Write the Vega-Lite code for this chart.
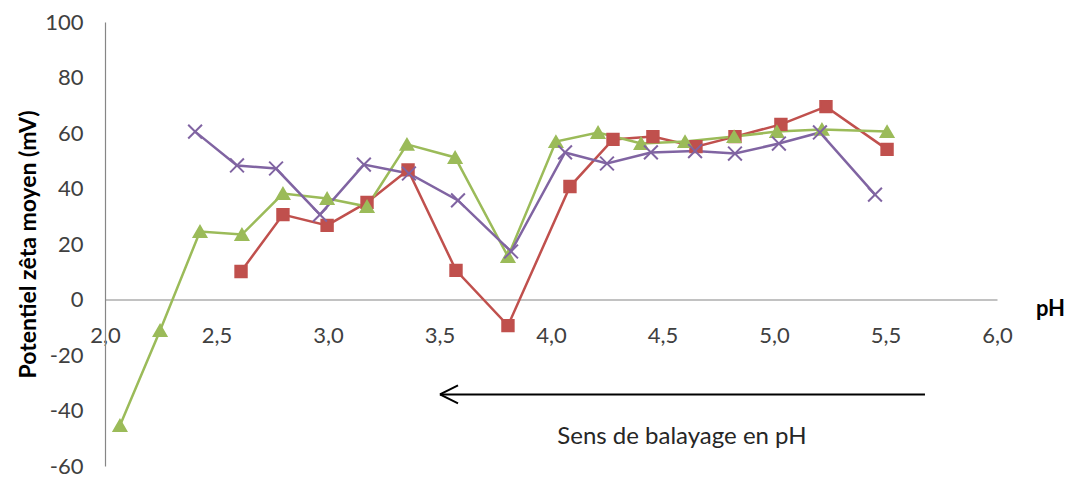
{
  "$schema": "https://vega.github.io/schema/vega-lite/v6.json",
  "width": 892,
  "height": 444,
  "autosize": {"type": "none"},
  "padding": {"left": 105, "top": 22, "right": 79, "bottom": 16},
  "background": "white",
  "config": {
    "view": {"stroke": null},
    "font": "Lato",
    "axis": {"grid": false, "ticks": false, "domainColor": "#868686", "domainWidth": 1.2, "labelFont": "Lato", "labelFontSize": 22, "labelColor": "#404040", "titleFont": "Lato"}
  },
  "datasets": {
    "series": [
      {"serie": "A", "pH": 2.61, "zeta": 10.1},
      {"serie": "A", "pH": 2.798, "zeta": 30.6},
      {"serie": "A", "pH": 2.996, "zeta": 26.7},
      {"serie": "A", "pH": 3.175, "zeta": 35.0},
      {"serie": "A", "pH": 3.359, "zeta": 46.7},
      {"serie": "A", "pH": 3.574, "zeta": 10.5},
      {"serie": "A", "pH": 3.807, "zeta": -9.4},
      {"serie": "A", "pH": 4.085, "zeta": 40.7},
      {"serie": "A", "pH": 4.278, "zeta": 57.7},
      {"serie": "A", "pH": 4.457, "zeta": 58.7},
      {"serie": "A", "pH": 4.65, "zeta": 55.1},
      {"serie": "A", "pH": 4.825, "zeta": 58.7},
      {"serie": "A", "pH": 5.031, "zeta": 63.1},
      {"serie": "A", "pH": 5.233, "zeta": 69.5},
      {"serie": "A", "pH": 5.507, "zeta": 54.1},
      {"serie": "B", "pH": 2.067, "zeta": -45.4},
      {"serie": "B", "pH": 2.247, "zeta": -11.2},
      {"serie": "B", "pH": 2.426, "zeta": 24.5},
      {"serie": "B", "pH": 2.614, "zeta": 23.4},
      {"serie": "B", "pH": 2.798, "zeta": 38.2},
      {"serie": "B", "pH": 2.996, "zeta": 36.4},
      {"serie": "B", "pH": 3.175, "zeta": 33.5},
      {"serie": "B", "pH": 3.354, "zeta": 55.9},
      {"serie": "B", "pH": 3.57, "zeta": 51.2},
      {"serie": "B", "pH": 3.807, "zeta": 15.5},
      {"serie": "B", "pH": 4.022, "zeta": 56.9},
      {"serie": "B", "pH": 4.211, "zeta": 60.2},
      {"serie": "B", "pH": 4.404, "zeta": 56.2},
      {"serie": "B", "pH": 4.601, "zeta": 56.9},
      {"serie": "B", "pH": 4.821, "zeta": 58.7},
      {"serie": "B", "pH": 5.013, "zeta": 60.5},
      {"serie": "B", "pH": 5.215, "zeta": 61.3},
      {"serie": "B", "pH": 5.507, "zeta": 60.5},
      {"serie": "C", "pH": 2.404, "zeta": 60.5},
      {"serie": "C", "pH": 2.592, "zeta": 48.3},
      {"serie": "C", "pH": 2.767, "zeta": 47.2},
      {"serie": "C", "pH": 2.964, "zeta": 30.6},
      {"serie": "C", "pH": 3.161, "zeta": 48.6},
      {"serie": "C", "pH": 3.363, "zeta": 45.4},
      {"serie": "C", "pH": 3.583, "zeta": 35.7},
      {"serie": "C", "pH": 3.821, "zeta": 17.3},
      {"serie": "C", "pH": 4.063, "zeta": 53.0},
      {"serie": "C", "pH": 4.251, "zeta": 49.0},
      {"serie": "C", "pH": 4.448, "zeta": 53.0},
      {"serie": "C", "pH": 4.646, "zeta": 53.5},
      {"serie": "C", "pH": 4.825, "zeta": 52.6},
      {"serie": "C", "pH": 5.022, "zeta": 56.2},
      {"serie": "C", "pH": 5.206, "zeta": 60.2},
      {"serie": "C", "pH": 5.453, "zeta": 37.8}
    ],
    "arrow": [
      {"x": 5.677, "y": -34.2, "x2": 3.502, "y2": -34.2},
      {"x": 3.502, "y": -34.2, "x2": 3.583, "y2": -30.96},
      {"x": 3.502, "y": -34.2, "x2": 3.583, "y2": -37.44}
    ],
    "note": [
      {"label": "Sens de balayage en pH", "x": 4.587, "y": -49.4}
    ]
  },
  "layer": [
    {
      "data": {"name": "series"},
      "mark": {"type": "line", "strokeWidth": 2.5},
      "encoding": {
        "x": {
          "field": "pH", "type": "quantitative",
          "scale": {"domain": [2, 6], "nice": false, "zero": false},
          "axis": {
            "orient": "bottom", "offset": -166.5, "values": [2, 2.5, 3, 3.5, 4, 4.5, 5, 5.5, 6],
            "labelExpr": "replace(format(datum.value, '.1f'), '.', ',')",
            "labelPadding": 26, "labelFlush": false,
            "title": "pH", "titleFontSize": 22, "titleFontWeight": "bold", "titleColor": "#000000",
            "titleX": 945, "titleY": 9, "titleBaseline": "middle", "titleAlign": "center", "titleAngle": 0
          }
        },
        "y": {
          "field": "zeta", "type": "quantitative",
          "scale": {"domain": [-60, 100], "nice": false},
          "axis": {
            "values": [-60, -40, -20, 0, 20, 40, 60, 80, 100],
            "labelExpr": "'' + datum.value",
            "labelPadding": 22,
            "title": "Potentiel zêta moyen (mV)", "titleFontSize": 23, "titleFontWeight": "bold", "titleColor": "#000000",
            "titlePadding": 4
          }
        },
        "color": {
          "field": "serie", "type": "nominal",
          "scale": {"domain": ["A", "B", "C"], "range": ["#C0504D", "#9BBB59", "#8064A2"]},
          "legend": null
        },
        "detail": {"field": "serie"}
      }
    },
    {
      "data": {"name": "series"},
      "mark": {"type": "point", "opacity": 1},
      "encoding": {
        "x": {"field": "pH", "type": "quantitative"},
        "y": {"field": "zeta", "type": "quantitative"},
        "shape": {
          "field": "serie", "type": "nominal",
          "scale": {"domain": ["A", "B", "C"], "range": ["square", "triangle-up", "M-1,-1L1,1M-1,1L1,-1"]},
          "legend": null
        },
        "size": {
          "field": "serie", "type": "nominal",
          "scale": {"domain": ["A", "B", "C"], "range": [130, 190, 200]},
          "legend": null
        },
        "fill": {
          "field": "serie", "type": "nominal",
          "scale": {"domain": ["A", "B", "C"], "range": ["#C0504D", "#9BBB59", "transparent"]},
          "legend": null
        },
        "stroke": {
          "field": "serie", "type": "nominal",
          "scale": {"domain": ["A", "B", "C"], "range": ["#C0504D", "#9BBB59", "#8064A2"]},
          "legend": null
        },
        "strokeWidth": {"value": 2}
      }
    },
    {
      "data": {"name": "arrow"},
      "mark": {"type": "rule", "color": "#000000", "strokeWidth": 2},
      "encoding": {
        "x": {"field": "x", "type": "quantitative"},
        "x2": {"field": "x2"},
        "y": {"field": "y", "type": "quantitative"},
        "y2": {"field": "y2"}
      }
    },
    {
      "data": {"name": "note"},
      "mark": {"type": "text", "font": "Lato", "fontSize": 24, "color": "#262626", "align": "center", "baseline": "middle"},
      "encoding": {
        "x": {"field": "x", "type": "quantitative"},
        "y": {"field": "y", "type": "quantitative"},
        "text": {"field": "label"}
      }
    }
  ]
}
